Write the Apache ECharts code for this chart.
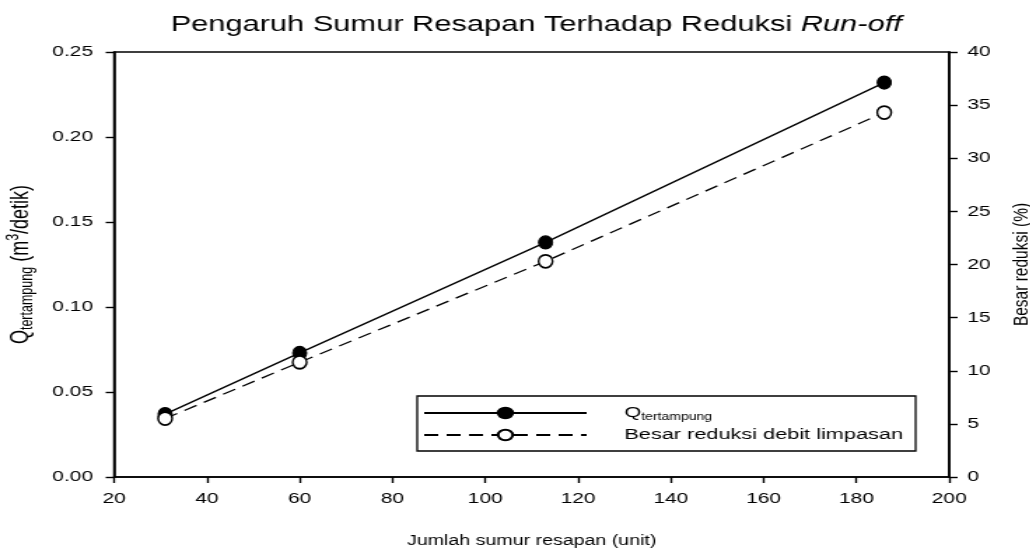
<!DOCTYPE html>
<html>
<head>
<meta charset="utf-8">
<title>Pengaruh Sumur Resapan</title>
<style>
	html,body{margin:0;padding:0;background:#fff;overflow:hidden;}
	/* the reference picture is stretched sideways, so draw narrow and stretch */
	#main{width:736px;height:556px;transform:scaleX(1.4);transform-origin:0 0;}
</style>
</head>
<body>
<div id="main"></div>
<script src="https://cdn.jsdelivr.net/npm/echarts@6/dist/echarts.min.js"></script>
<script type="text/javascript">
	// jumlah sumur resapan (unit)
	var jumlahSumur = [31, 60, 113, 186];
	// Q tertampung (m3/detik)
	var qTertampung = [0.037, 0.073, 0.138, 0.232];
	// besar reduksi debit limpasan (%)
	var besarReduksi = [5.5, 10.8, 20.3, 34.3];

	var fontName = 'Liberation Sans, Arial, sans-serif';

	function pairs(xs, ys){
		var out = [];
		for(var i=0;i<xs.length;i++){
			out.push([xs[i], ys[i]]);
		}
		return out;
	}

	var myChart = echarts.init(document.getElementById('main'));
	var option = {
		animation:false,
		textStyle:{fontFamily:fontName,color:'#000'},
		title:{
			text:'{n|Pengaruh Sumur Resapan Terhadap Reduksi }{i|Run-off}',
			left:378,
			top:9,
			textAlign:'center',
			textStyle:{
				fontWeight:'normal',
				rich:{
					n:{fontFamily:fontName,fontSize:22,color:'#000',fontWeight:'normal'},
					i:{fontFamily:fontName,fontSize:22,color:'#000',fontWeight:'normal',fontStyle:'italic'}
				}
			}
		},
		grid:{
			left:81.5,
			right:58,
			top:52,
			bottom:79,
			outerBoundsMode:'none',
			containLabel:false,
			show:true,
			borderColor:'#000',
			borderWidth:1.5,
			backgroundColor:'transparent'
		},
		legend:{
			orient:'vertical',
			left:298,
			top:396,
			padding:[9,9,8,4],
			borderColor:'#000',
			borderWidth:1.3,
			itemWidth:116,
			itemHeight:13,
			itemGap:5,
			data:['Q','Besar reduksi debit limpasan'],
			formatter:function(name){
				if(name == 'Q'){
					return '{q|Q}{s|tertampung}';
				}
				return '{t|' + name + '}';
			},
			textStyle:{
				padding:[0,0,0,22],
				rich:{
					q:{fontFamily:fontName,fontSize:15.5,color:'#000',lineHeight:18},
					s:{fontFamily:fontName,fontSize:10,color:'#000',lineHeight:12,verticalAlign:'bottom'},
					t:{fontFamily:fontName,fontSize:15.5,color:'#000',lineHeight:18}
				}
			}
		},
		xAxis:{
			type:'value',
			min:20,
			max:200,
			interval:20,
			name:'Jumlah sumur resapan (unit)',
			nameLocation:'middle',
			nameGap:57,
			nameTextStyle:{fontFamily:fontName,fontSize:14,color:'#000'},
			axisLine:{lineStyle:{color:'#000',width:1.6}},
			axisTick:{length:6,lineStyle:{color:'#000',width:1.4}},
			axisLabel:{fontFamily:fontName,fontSize:15,color:'#000',margin:14},
			splitLine:{show:false}
		},
		yAxis:[
			{
				type:'value',
				min:0,
				max:0.25,
				interval:0.05,
				name:'{q|Q}{s|tertampung}{q| (m}{p|3}{q|/detik)}',
				nameLocation:'middle',
				nameRotate:90,
				nameGap:52,
				nameTextStyle:{
					rich:{
						q:{fontFamily:fontName,fontSize:18,color:'#000',lineHeight:23},
						s:{fontFamily:fontName,fontSize:12.5,color:'#000',lineHeight:15,verticalAlign:'bottom'},
						p:{fontFamily:fontName,fontSize:12.5,color:'#000',lineHeight:15,verticalAlign:'top'}
					}
				},
				axisLine:{show:true,lineStyle:{color:'#000',width:1.6}},
				axisTick:{show:true,length:6,lineStyle:{color:'#000',width:1.4}},
				axisLabel:{
					fontFamily:fontName,fontSize:15,color:'#000',margin:15,
					formatter:function(v){return v.toFixed(2);}
				},
				splitLine:{show:false}
			},
			{
				type:'value',
				position:'right',
				min:0,
				max:40,
				interval:5,
				name:'Besar reduksi (%)',
				nameLocation:'middle',
				nameRotate:90,
				nameGap:44,
				nameTextStyle:{fontFamily:fontName,fontSize:15.5,color:'#000'},
				axisLine:{show:true,lineStyle:{color:'#000',width:1.6}},
				axisTick:{show:true,length:6,lineStyle:{color:'#000',width:1.4}},
				axisLabel:{fontFamily:fontName,fontSize:15,color:'#000',margin:13},
				splitLine:{show:false}
			}
		],
		series:[
			{
				name:'Q',
				type:'line',
				yAxisIndex:0,
				data:pairs(jumlahSumur, qTertampung),
				symbol:'circle',
				symbolSize:[10,13],
				lineStyle:{color:'#000',width:1.3},
				itemStyle:{color:'#000',borderColor:'#000',borderWidth:1}
			},
			{
				name:'Besar reduksi debit limpasan',
				type:'line',
				yAxisIndex:1,
				data:pairs(jumlahSumur, besarReduksi),
				symbol:'circle',
				symbolSize:[10,13],
				lineStyle:{color:'#000',width:1.3,type:[10,6]},
				itemStyle:{color:'#fff',borderColor:'#000',borderWidth:1.6}
			}
		]
	};
	myChart.setOption(option);
</script>
</body>
</html>
